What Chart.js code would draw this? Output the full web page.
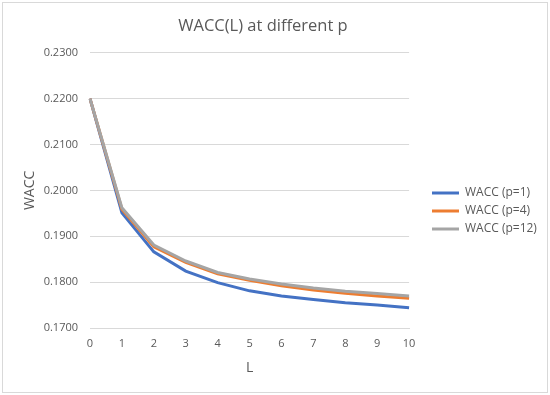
<!DOCTYPE html>
<html>
<head>
<meta charset="utf-8">
<script src="https://cdn.jsdelivr.net/npm/chart.js@4"></script>
<style>
  html, body { margin: 0; padding: 0; background: #fff; }
  #wrap { width: 550px; height: 395px; }
</style>
</head>
<body>
<div id="wrap"><canvas id="waccChart" width="550" height="395"></canvas></div>
<script>
// Data
const levels = ['0', '1', '2', '3', '4', '5', '6', '7', '8', '9', '10'];
const waccP1  = [0.2200, 0.1951, 0.1866, 0.1824, 0.1799, 0.1781, 0.1770, 0.1762, 0.1755, 0.1750, 0.1744];
const waccP4  = [0.2200, 0.1959, 0.1877, 0.1843, 0.1818, 0.1804, 0.1792, 0.1783, 0.1776, 0.1770, 0.1765];
const waccP12 = [0.2200, 0.1962, 0.1881, 0.1846, 0.1821, 0.1807, 0.1796, 0.1787, 0.1780, 0.1775, 0.1770];

const textColor = '#595959';
const gridColor = '#d9d9d9';
const fontFamily = '"Open Sans", "Liberation Sans", sans-serif';

// frame round the whole chart, like Excel
const chartBorder = {
  id: 'chartBorder',
  beforeDraw(chart) {
    const ctx = chart.ctx;
    ctx.save();
    ctx.fillStyle = '#fff';
    ctx.fillRect(0, 0, chart.width, chart.height);
    ctx.strokeStyle = gridColor;
    ctx.lineWidth = 1;
    ctx.strokeRect(2.5, 2.5, chart.width - 5, chart.height - 5);
    ctx.restore();
  }
};

// nudge legend (right + down) and title (a little left) to where Excel puts them
const boxShift = {
  id: 'boxShift',
  afterLayout(chart) {
    const lg = chart.legend;
    const dx = 426 - lg.left;
    lg.left += dx; lg.right += dx;
    lg.top += 20; lg.bottom += 20;
    const tb = chart.titleBlock;
    tb.left -= 11; tb.right -= 11;
  }
};

new Chart(document.getElementById('waccChart'), {
  type: 'line',
  data: {
    labels: levels,
    datasets: [
      { label: 'WACC (p=1)', data: waccP1, borderColor: '#4472C4', backgroundColor: '#4472C4', borderWidth: 3, order: 3 },
      { label: 'WACC (p=4)', data: waccP4, borderColor: '#ED7D31', backgroundColor: '#ED7D31', borderWidth: 3, order: 2 },
      { label: 'WACC (p=12)', data: waccP12, borderColor: '#A5A5A5', backgroundColor: '#A5A5A5', borderWidth: 3, order: 1 }
    ]
  },
  options: {
    responsive: false,
    animation: false,
    devicePixelRatio: 1,
    elements: {
      line: { tension: 0, fill: false },
      point: { radius: 0 }
    },
    layout: { padding: { left: 18, right: 20, top: 4, bottom: 17 } },
    plugins: {
      title: {
        display: true,
        text: 'WACC(L) at different p',
        color: textColor,
        font: { family: fontFamily, size: 16.5, weight: 'normal' },
        padding: { top: 12, bottom: 17 }
      },
      legend: {
        position: 'right',
        labels: {
          color: textColor,
          font: { family: fontFamily, size: 12 },
          usePointStyle: true,
          pointStyle: 'line',
          pointStyleWidth: 27,
          padding: 6,
          sort: (a, b) => a.datasetIndex - b.datasetIndex
        }
      },
      tooltip: { enabled: false }
    },
    scales: {
      x: {
        offset: false,
        grid: { display: false, drawTicks: false },
        border: { display: true, color: gridColor },
        ticks: { color: textColor, padding: 9, font: { family: fontFamily, size: 11 }, maxRotation: 0 },
        title: { display: true, text: 'L', color: textColor, padding: { top: 8, bottom: 2 }, font: { family: fontFamily, size: 14 } },
        afterFit: s => { s.height = 50; }
      },
      y: {
        min: 0.17,
        max: 0.23,
        ticks: {
          stepSize: 0.01,
          color: textColor,
          padding: 12,
          font: { family: fontFamily, size: 11 },
          callback: v => v.toFixed(4)
        },
        grid: { color: gridColor, drawTicks: false },
        border: { display: false },
        title: { display: true, text: 'WACC', color: textColor, padding: 4, font: { family: fontFamily, size: 14 } },
        afterFit: s => { s.width = 72; }
      }
    }
  },
  plugins: [chartBorder, boxShift]
});
</script>
</body>
</html>
